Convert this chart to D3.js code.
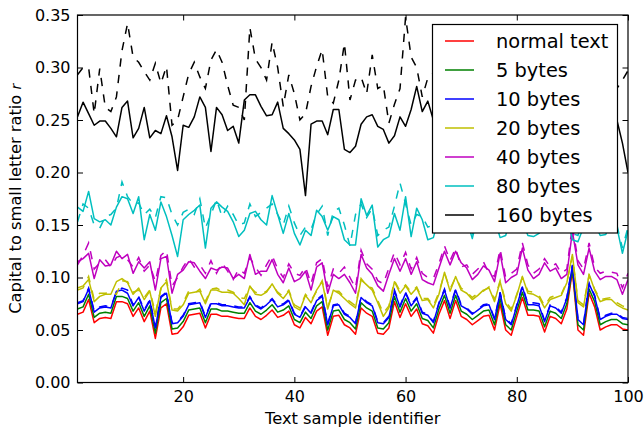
<!DOCTYPE html>
<html><head><meta charset="utf-8">
<script src="https://cdn.jsdelivr.net/npm/d3@7"></script>
<style>body{margin:0;background:#fff}svg{display:block}text{font-family:"DejaVu Sans",sans-serif}</style>
</head><body><svg id="c" width="644" height="432"></svg>
<script>
const xIds = d3.range(1, 101);
const seriesNames = ["normal text","5 bytes","10 bytes","20 bytes","40 bytes","80 bytes","160 bytes"];
const seriesColors = ["#ff0000","#008000","#0000ff","#bfbf00","#bf00bf","#00bfbf","#000000"];
const yTicks = [0,0.05,0.10,0.15,0.20,0.25,0.30,0.35];
const xTicks = [20,40,60,80,100];

const red = [0.065,0.067,0.079,0.057,0.061,0.062,0.061,0.077,0.077,0.075,0.063,0.071,0.058,0.068,0.042,0.071,0.075,0.046,0.047,0.053,
0.064,0.065,0.066,0.052,0.065,0.065,0.063,0.063,0.062,0.061,0.061,0.071,0.063,0.060,0.064,0.069,0.062,0.064,0.068,0.055,
0.052,0.062,0.056,0.068,0.072,0.045,0.063,0.064,0.055,0.052,0.046,0.071,0.066,0.063,0.047,0.046,0.052,0.077,0.062,0.075,
0.063,0.070,0.056,0.054,0.047,0.065,0.078,0.061,0.078,0.063,0.060,0.055,0.059,0.063,0.064,0.050,0.075,0.050,0.045,0.063,
0.081,0.064,0.064,0.063,0.048,0.063,0.061,0.056,0.070,0.106,0.050,0.045,0.085,0.072,0.050,0.053,0.055,0.055,0.051,0.050];
const green = [0.070,0.072,0.084,0.062,0.066,0.067,0.066,0.082,0.082,0.080,0.068,0.076,0.063,0.073,0.047,0.076,0.080,0.051,0.052,0.058,
0.069,0.070,0.071,0.057,0.070,0.070,0.068,0.068,0.067,0.066,0.066,0.076,0.068,0.065,0.069,0.074,0.067,0.069,0.073,0.060,
0.057,0.067,0.061,0.073,0.077,0.050,0.068,0.069,0.060,0.057,0.051,0.076,0.071,0.068,0.052,0.051,0.057,0.082,0.067,0.080,
0.068,0.075,0.061,0.059,0.052,0.070,0.083,0.066,0.083,0.068,0.065,0.060,0.064,0.068,0.069,0.055,0.080,0.055,0.050,0.068,
0.086,0.069,0.069,0.068,0.053,0.068,0.066,0.061,0.075,0.108,0.055,0.050,0.089,0.077,0.055,0.058,0.060,0.060,0.056,0.055];
const blue = [0.075,0.077,0.089,0.067,0.071,0.072,0.071,0.087,0.088,0.085,0.073,0.081,0.068,0.078,0.052,0.081,0.085,0.056,0.057,0.063,
0.074,0.075,0.076,0.062,0.075,0.075,0.073,0.073,0.072,0.071,0.071,0.081,0.073,0.070,0.074,0.079,0.072,0.074,0.078,0.065,
0.062,0.072,0.066,0.078,0.082,0.055,0.073,0.074,0.065,0.062,0.056,0.081,0.076,0.073,0.057,0.056,0.062,0.087,0.072,0.085,
0.073,0.080,0.066,0.064,0.057,0.075,0.088,0.071,0.088,0.073,0.070,0.065,0.069,0.073,0.074,0.060,0.085,0.060,0.055,0.073,
0.091,0.074,0.074,0.073,0.058,0.073,0.071,0.066,0.080,0.111,0.060,0.055,0.094,0.082,0.060,0.063,0.065,0.065,0.061,0.060];
const yellow = [0.090,0.092,0.098,0.077,0.082,0.084,0.084,0.096,0.099,0.095,0.084,0.090,0.079,0.087,0.063,0.090,0.096,0.069,0.068,0.074,
0.085,0.086,0.087,0.075,0.088,0.088,0.086,0.086,0.085,0.080,0.074,0.092,0.084,0.083,0.086,0.094,0.085,0.080,0.087,0.072,
0.069,0.083,0.076,0.088,0.096,0.070,0.088,0.085,0.080,0.075,0.071,0.098,0.093,0.088,0.076,0.063,0.071,0.096,0.085,0.092,
0.084,0.090,0.078,0.079,0.071,0.084,0.105,0.087,0.101,0.088,0.085,0.079,0.083,0.088,0.090,0.077,0.096,0.075,0.068,0.083,
0.101,0.085,0.084,0.081,0.071,0.079,0.081,0.083,0.095,0.122,0.076,0.072,0.103,0.088,0.077,0.079,0.079,0.074,0.071,0.069];
const magenta = [0.115,0.118,0.123,0.099,0.117,0.111,0.112,0.125,0.118,0.122,0.104,0.115,0.109,0.115,0.088,0.118,0.120,0.085,0.103,0.107,
0.115,0.114,0.106,0.099,0.109,0.107,0.110,0.109,0.099,0.103,0.099,0.122,0.103,0.106,0.106,0.117,0.103,0.095,0.109,0.096,
0.099,0.106,0.088,0.110,0.114,0.085,0.103,0.099,0.103,0.095,0.085,0.122,0.109,0.103,0.092,0.087,0.103,0.118,0.106,0.118,
0.103,0.115,0.098,0.095,0.093,0.109,0.125,0.112,0.125,0.114,0.109,0.098,0.103,0.111,0.107,0.096,0.123,0.095,0.100,0.103,
0.128,0.107,0.099,0.103,0.114,0.106,0.109,0.099,0.103,0.144,0.112,0.103,0.128,0.106,0.098,0.101,0.101,0.098,0.084,0.098];
const cyan = [0.167,0.163,0.182,0.156,0.153,0.155,0.150,0.167,0.177,0.175,0.161,0.177,0.136,0.160,0.145,0.172,0.158,0.140,0.120,0.155,
0.160,0.164,0.169,0.128,0.166,0.172,0.167,0.163,0.153,0.139,0.145,0.161,0.163,0.155,0.150,0.178,0.160,0.142,0.161,0.142,
0.131,0.145,0.140,0.164,0.158,0.145,0.158,0.155,0.136,0.131,0.131,0.175,0.159,0.169,0.129,0.136,0.139,0.161,0.145,0.177,
0.139,0.166,0.155,0.136,0.138,0.158,0.165,0.152,0.160,0.149,0.155,0.137,0.160,0.163,0.150,0.156,0.138,0.140,0.158,0.162,
0.154,0.140,0.139,0.142,0.158,0.165,0.150,0.155,0.160,0.136,0.134,0.148,0.160,0.152,0.140,0.141,0.155,0.148,0.123,0.145];
const black = [0.253,0.267,0.256,0.245,0.249,0.249,0.242,0.234,0.262,0.268,0.233,0.242,0.262,0.233,0.240,0.237,0.254,0.234,0.202,0.245,
0.243,0.253,0.272,0.262,0.220,0.262,0.255,0.240,0.244,0.228,0.269,0.274,0.274,0.263,0.254,0.255,0.267,0.242,0.237,0.231,
0.222,0.178,0.246,0.249,0.249,0.236,0.260,0.260,0.222,0.219,0.225,0.246,0.253,0.255,0.244,0.241,0.228,0.235,0.253,0.244,
0.260,0.282,0.258,0.268,0.250,0.245,0.258,0.262,0.248,0.240,0.255,0.262,0.250,0.245,0.238,0.252,0.260,0.248,0.243,0.255,
0.265,0.250,0.240,0.246,0.258,0.252,0.244,0.250,0.262,0.270,0.248,0.240,0.255,0.258,0.246,0.250,0.252,0.250,0.228,0.200];

const blueDashed = [0.076,0.078,0.090,0.068,0.072,0.073,0.072,0.086,0.090,0.088,0.074,0.082,0.069,0.079,0.053,0.082,0.086,0.057,0.058,0.064,
0.075,0.076,0.077,0.063,0.076,0.076,0.074,0.074,0.073,0.072,0.072,0.082,0.074,0.071,0.075,0.080,0.073,0.075,0.079,0.066,
0.063,0.073,0.067,0.079,0.083,0.056,0.074,0.075,0.066,0.063,0.057,0.082,0.077,0.074,0.058,0.057,0.063,0.088,0.073,0.086,
0.074,0.081,0.067,0.065,0.058,0.076,0.089,0.072,0.089,0.074,0.071,0.066,0.070,0.074,0.075,0.061,0.086,0.061,0.056,0.074,
0.092,0.075,0.076,0.075,0.059,0.074,0.072,0.067,0.081,0.112,0.061,0.056,0.095,0.083,0.061,0.064,0.066,0.066,0.062,0.061];
const yellowDashed = [0.088,0.090,0.101,0.079,0.085,0.085,0.086,0.084,0.097,0.096,0.086,0.088,0.081,0.088,0.066,0.089,0.098,0.070,0.070,0.076,
0.087,0.085,0.089,0.077,0.089,0.090,0.087,0.088,0.086,0.081,0.080,0.091,0.086,0.084,0.087,0.093,0.086,0.082,0.088,0.074,
0.071,0.084,0.078,0.087,0.097,0.072,0.087,0.087,0.081,0.077,0.073,0.099,0.092,0.090,0.078,0.066,0.073,0.097,0.087,0.093,
0.086,0.091,0.080,0.080,0.073,0.086,0.104,0.089,0.100,0.090,0.086,0.081,0.085,0.087,0.091,0.079,0.097,0.077,0.070,0.084,
0.100,0.087,0.086,0.083,0.073,0.081,0.083,0.084,0.096,0.120,0.078,0.074,0.102,0.089,0.079,0.080,0.081,0.076,0.073,0.071];
const magentaDashed = [0.112,0.121,0.133,0.108,0.114,0.117,0.110,0.119,0.121,0.117,0.110,0.119,0.106,0.112,0.096,0.121,0.126,0.092,0.100,0.110,
0.118,0.110,0.112,0.104,0.116,0.104,0.114,0.106,0.098,0.108,0.104,0.119,0.110,0.102,0.112,0.121,0.108,0.100,0.113,0.104,
0.102,0.110,0.094,0.114,0.118,0.091,0.108,0.104,0.110,0.100,0.090,0.126,0.113,0.108,0.097,0.094,0.109,0.124,0.112,0.124,
0.108,0.119,0.104,0.100,0.099,0.113,0.130,0.116,0.128,0.110,0.112,0.103,0.108,0.115,0.104,0.101,0.127,0.100,0.104,0.108,
0.133,0.112,0.104,0.108,0.118,0.110,0.113,0.104,0.108,0.150,0.116,0.108,0.133,0.110,0.104,0.106,0.105,0.104,0.090,0.104];
const cyanDashed = [0.153,0.170,0.166,0.150,0.147,0.158,0.160,0.166,0.191,0.177,0.170,0.171,0.160,0.165,0.157,0.177,0.176,0.160,0.150,0.162,
0.165,0.160,0.175,0.147,0.160,0.174,0.158,0.168,0.160,0.150,0.152,0.170,0.158,0.162,0.166,0.170,0.160,0.150,0.168,0.152,
0.140,0.148,0.146,0.160,0.168,0.140,0.163,0.166,0.150,0.130,0.160,0.170,0.157,0.166,0.140,0.145,0.148,0.168,0.190,0.170,
0.150,0.160,0.158,0.148,0.150,0.165,0.160,0.158,0.165,0.155,0.160,0.142,0.165,0.160,0.155,0.160,0.143,0.150,0.162,0.165,
0.160,0.145,0.148,0.146,0.163,0.160,0.155,0.160,0.165,0.142,0.140,0.155,0.162,0.158,0.146,0.147,0.160,0.150,0.128,0.148];
const blackDashed = [0.293,0.300,0.300,0.256,0.299,0.262,0.258,0.272,0.316,0.342,0.310,0.305,0.296,0.288,0.304,0.285,0.301,0.245,0.250,0.272,
0.294,0.305,0.291,0.280,0.307,0.317,0.305,0.283,0.264,0.262,0.250,0.338,0.308,0.300,0.288,0.324,0.300,0.263,0.293,0.275,
0.250,0.256,0.282,0.301,0.317,0.272,0.266,0.288,0.323,0.269,0.288,0.291,0.275,0.312,0.280,0.283,0.247,0.265,0.280,0.348,
0.310,0.300,0.272,0.290,0.295,0.285,0.305,0.300,0.280,0.290,0.310,0.295,0.285,0.300,0.290,0.280,0.305,0.295,0.288,0.300,
0.310,0.290,0.282,0.295,0.300,0.288,0.280,0.295,0.305,0.310,0.290,0.282,0.298,0.300,0.290,0.285,0.292,0.280,0.288,0.297];

const solidSeries = [red, green, blue, yellow, magenta, cyan, black];
const dashedSeries = [null, null, blueDashed, yellowDashed, magentaDashed, cyanDashed, blackDashed];

const svg = d3.select("#c");
const L = 77.5, R = 628, T = 15, B = 382.5;
const x = d3.scaleLinear().domain([1, 100]).range([L, R]);
const y = d3.scaleLinear().domain([0, 0.35]).range([B, T]);

svg.append("defs").append("clipPath").attr("id","clip")
  .append("rect").attr("x", L).attr("y", T).attr("width", R - L).attr("height", B - T);

const line = d3.line().x((d, i) => x(xIds[i])).y(d => y(d));
const g = svg.append("g").attr("clip-path", "url(#clip)");
solidSeries.forEach((s, k) => {
  g.append("path").attr("d", line(s)).attr("fill","none")
    .attr("stroke", seriesColors[k]).attr("stroke-width", 1.5).attr("stroke-linejoin","round");
  if (dashedSeries[k]) {
    g.append("path").attr("d", line(dashedSeries[k])).attr("fill","none")
      .attr("stroke", seriesColors[k]).attr("stroke-width", 1.5)
      .attr("stroke-dasharray", "8.3,8.3");
  }
});

const fmt = d3.format(".2f");
const axL = svg.append("g").attr("transform", `translate(${L},0)`)
  .call(d3.axisLeft(y).tickValues(yTicks).tickFormat(fmt).tickSizeInner(-5.5).tickSizeOuter(0).tickPadding(7));
const axR = svg.append("g").attr("transform", `translate(${R},0)`)
  .call(d3.axisRight(y).tickValues(yTicks).tickFormat("").tickSizeInner(-5.5).tickSizeOuter(0));
const axB = svg.append("g").attr("transform", `translate(0,${B})`)
  .call(d3.axisBottom(x).tickValues(xTicks).tickFormat(d3.format("d")).tickSizeInner(-5.5).tickSizeOuter(0).tickPadding(8));
const axT = svg.append("g").attr("transform", `translate(0,${T})`)
  .call(d3.axisTop(x).tickValues(xTicks).tickFormat("").tickSizeInner(-5.5).tickSizeOuter(0));
[axL, axR, axB, axT].forEach(a => {
  a.select(".domain").remove();
  a.selectAll(".tick line").attr("stroke", "#000").attr("stroke-width", 1);
  a.selectAll("text").attr("font-size", 16).attr("font-family", "DejaVu Sans").attr("fill", "#000");
});

svg.append("rect").attr("x", L).attr("y", T).attr("width", R - L).attr("height", B - T)
  .attr("fill","none").attr("stroke","#000").attr("stroke-width", 1.2);

// legend
const lg = svg.append("g");
lg.append("rect").attr("x", 432.5).attr("y", 24.5).attr("width", 185).attr("height", 208.5)
  .attr("fill","#fff").attr("stroke","#000").attr("stroke-width", 1.2);
seriesNames.forEach((n, k) => {
  const cy = 41 + k * 29;
  lg.append("line").attr("x1", 445).attr("x2", 474).attr("y1", cy).attr("y2", cy)
    .attr("stroke", seriesColors[k]).attr("stroke-width", 1.5);
  lg.append("text").attr("x", 496).attr("y", cy).attr("dy", "0.37em")
    .attr("font-size", 19.4).text(n);
});

// axis labels
svg.append("text").attr("x", (L + R) / 2).attr("y", 424).attr("text-anchor","middle")
  .attr("font-size", 16.3).text("Text sample identifier");
const yl = svg.append("text").attr("transform", `translate(21,${(T + B) / 2}) rotate(-90)`)
  .attr("text-anchor","middle").attr("font-size", 16.3);
yl.append("tspan").text("Capital to small letter ratio ");
yl.append("tspan").attr("font-style","italic").attr("font-size", 14).text("r");
</script></body></html>
